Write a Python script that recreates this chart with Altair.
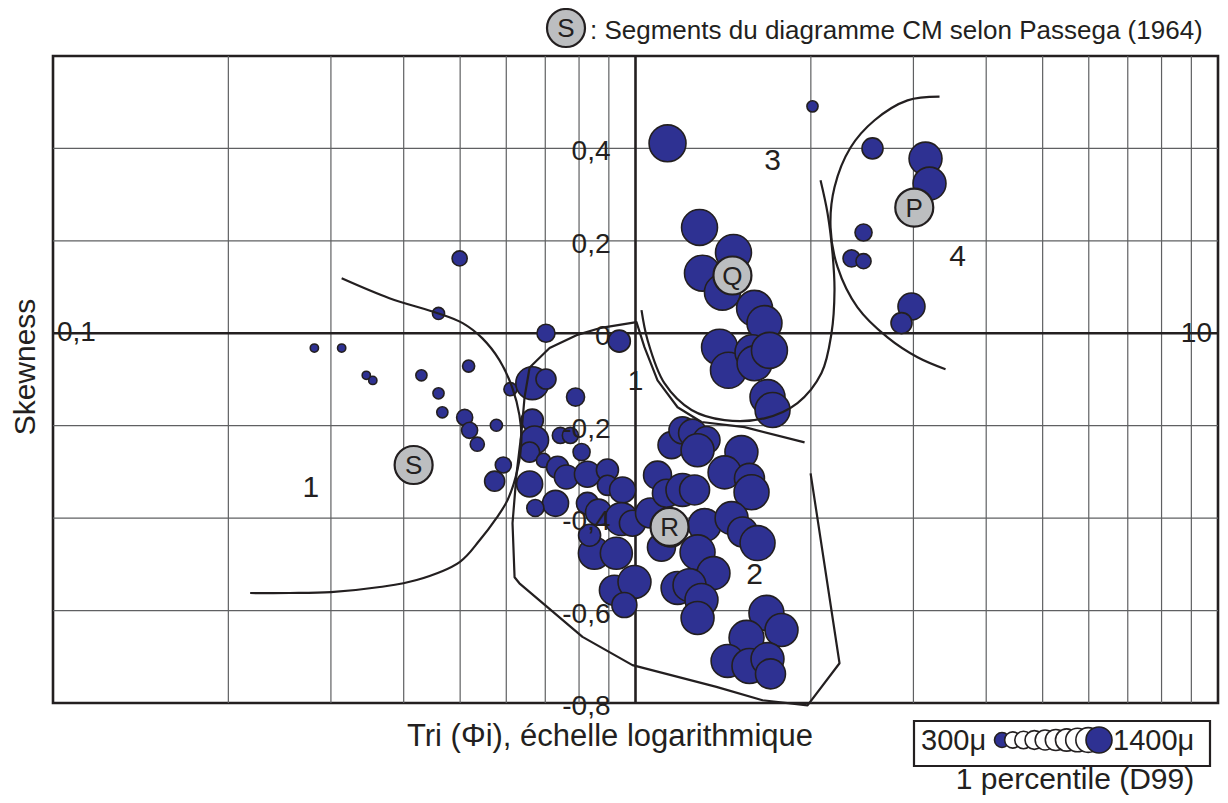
import altair as alt
import pandas as pd

W, H = 1165, 647
BLUE = "#2E3192"
INK = "#231F20"
GREY = "#BCBEC0"
GRID = "#5F6062"
FONT = "Liberation Sans"

# ---------------- bubbles: Tri (Phi i), Skewness, D99 (microns) ----------------
tri = [0.281, 0.313, 0.345, 0.354, 0.429, 0.459, 0.499, 0.517, 0.459, 0.466,
       0.509, 0.519, 0.535, 0.577, 0.593, 0.573, 0.610, 0.665, 0.702, 0.702,
       0.789, 0.938, 0.665, 0.671, 0.743, 0.773, 0.808, 0.658, 0.695, 0.735,
       0.761, 0.827, 0.895, 0.895, 0.950, 0.658, 0.729, 0.673, 0.827, 0.864,
       0.946, 0.988, 1.061, 0.850, 0.927, 0.920, 0.996, 0.957, 1.153, 1.204,
       1.253, 1.324, 1.278, 1.520, 1.422, 1.569, 1.582, 1.091, 1.130, 1.204,
       1.263, 1.108, 1.314, 1.462, 1.527, 1.620, 1.278, 1.361, 1.181, 1.238,
       1.298, 1.278, 1.678, 1.781, 1.551, 1.439, 1.569, 1.685, 1.705, 1.135,
       1.288, 1.473, 1.303, 1.410, 1.601, 1.665, 1.394, 1.444, 1.588, 1.601,
       1.698, 1.685, 1.719, 2.013, 2.552, 3.147, 3.197, 2.463, 2.349, 2.463,
       2.977, 2.862, 0.834, 1.150]
skew = [-0.032, -0.032, -0.091, -0.102, -0.091, 0.043, 0.162, -0.071, -0.130, -0.171,
        -0.182, -0.210, -0.240, -0.199, -0.285, -0.320, -0.121, -0.108, -0.099, 0.000,
        -0.138, -0.017, -0.188, -0.231, -0.221, -0.221, -0.257, -0.257, -0.275, -0.290,
        -0.311, -0.305, -0.296, -0.329, -0.339, -0.326, -0.368, -0.378, -0.368, -0.387,
        -0.402, -0.411, -0.389, -0.476, -0.476, -0.556, -0.538, -0.588, -0.242, -0.210,
        -0.216, -0.231, -0.253, -0.257, -0.301, -0.314, -0.344, -0.307, -0.346, -0.339,
        -0.339, -0.463, -0.415, -0.400, -0.430, -0.454, -0.474, -0.519, -0.551, -0.545,
        -0.577, -0.616, -0.605, -0.642, -0.659, -0.709, -0.720, -0.705, -0.737, 0.411,
        0.229, 0.175, 0.130, 0.089, 0.054, 0.022, -0.030, -0.080, -0.041, -0.065,
        -0.037, -0.138, -0.166, 0.491, 0.400, 0.378, 0.324, 0.218, 0.162, 0.156,
        0.058, 0.022, -0.437, -0.430]
d99 = [303, 303, 303, 303, 348, 366, 431, 366, 348, 348,
       455, 455, 408, 366, 455, 569, 386, 1114, 569, 509,
       509, 636, 636, 873, 455, 455, 481, 569, 408, 636,
       708, 788, 636, 569, 788, 788, 788, 481, 636, 788,
       1114, 788, 965, 1063, 1063, 965, 1114, 747, 829, 829,
       873, 829, 1114, 1114, 1114, 965, 1222, 873, 873, 1114,
       965, 873, 1114, 1114, 965, 1222, 1222, 1114, 1114, 1114,
       1114, 1114, 1222, 1114, 1222, 1114, 1222, 1114, 965, 1336,
       1278, 1278, 1278, 1278, 1278, 1222, 1278, 1278, 1222, 1222,
       1278, 1222, 1222, 348, 602, 1114, 1114, 481, 481, 431,
       829, 602, 636, 965]

# ---------------- segment boundaries of the CM diagram ----------------
curve_a_tri = [0.313, 0.378, 0.459, 0.505, 0.546, 0.584, 0.615, 0.632, 0.637, 0.627,
               0.603, 0.577, 0.540, 0.499, 0.421, 0.364, 0.300, 0.255, 0.218]
curve_a_skew = [0.119, 0.076, 0.043, 0.022, -0.011, -0.058, -0.119, -0.177, -0.231, -0.296,
                -0.361, -0.400, -0.448, -0.495, -0.534, -0.549, -0.560, -0.562, -0.562]
curve_b_tri = [1.951, 1.539, 1.298, 1.181, 1.091, 1.036, 1.004, 0.867, 0.792, 0.712,
               0.658, 0.645, 0.637, 0.625, 0.615, 0.620, 0.632, 0.811, 0.988, 1.377,
               1.652, 1.974, 2.240, 1.998]
curve_b_skew = [-0.236, -0.203, -0.192, -0.160, -0.102, -0.030, 0.024, 0.011, -0.004, -0.032,
                -0.074, -0.138, -0.216, -0.303, -0.411, -0.528, -0.541, -0.657, -0.718, -0.765,
                -0.794, -0.805, -0.714, -0.303]
curve_c_tri = [2.078, 2.137, 2.179, 2.196, 2.170, 2.086, 1.897, 1.665, 1.422, 1.248,
               1.121, 1.049, 1.024]
curve_c_skew = [0.331, 0.259, 0.173, 0.093, 0.000, -0.086, -0.151, -0.184, -0.188, -0.166,
                -0.108, -0.015, 0.050]
curve_d_tri = [3.326, 2.931, 2.573, 2.340, 2.196, 2.162, 2.223, 2.405, 2.708, 3.049, 3.406]
curve_d_skew = [0.512, 0.504, 0.461, 0.402, 0.316, 0.229, 0.143, 0.056, -0.009, -0.052, -0.078]

# ---------------- segment markers (Passega) and region numbers ----------------
seg_names = ["S", "Q", "R", "P"]
seg_tri = [0.416, 1.467, 1.144, 3.010]
seg_skew = [-0.285, 0.125, -0.419, 0.272]

zone_names = ["1", "2", "3", "4"]
zone_tri = [0.277, 1.601, 1.719, 3.571]
zone_skew = [-0.335, -0.523, 0.372, 0.166]

# ---------------- axes ----------------
grid_x = [0.2, 0.3, 0.4, 0.5, 0.6, 0.7, 0.8, 0.9, 2, 3, 4, 5, 6, 7, 8, 9]
grid_y = [-0.6, -0.4, -0.2, 0.2, 0.4]
ytick_vals = [0.4, 0.2, 0.0, -0.2, -0.4, -0.6, -0.8]
ytick_labels = ["0,4", "0,2", "0", "-0,2", "-0,4", "-0,6", "-0,8"]

legend_keys = [300, 422, 544, 667, 789, 911, 1033, 1156, 1278, 1400]

# ---------------- build tables ----------------
bubbles = pd.DataFrame({"tri": tri, "skew": skew, "d99": d99})

rows = []
for name, xs_, ys_ in [("A", curve_a_tri, curve_a_skew), ("B", curve_b_tri, curve_b_skew),
                       ("C", curve_c_tri, curve_c_skew), ("D", curve_d_tri, curve_d_skew)]:
    for i, (a, b) in enumerate(zip(xs_, ys_)):
        rows.append({"curve": name, "i": i, "tri": a, "skew": b})
curves = pd.DataFrame(rows)

segs = pd.DataFrame({"name": seg_names, "tri": seg_tri, "skew": seg_skew})
zones = pd.DataFrame({"name": zone_names, "tri": zone_tri, "skew": zone_skew})
yticks = pd.DataFrame({"skew": ytick_vals, "lab": ytick_labels})

xs = alt.Scale(type="log", domain=[0.1, 10], nice=False)
ys = alt.Scale(domain=[-0.8, 0.6], nice=False, zero=False)

hidden_axis = alt.Axis(grid=False, labels=False, ticks=False, domain=False, title=None)


def X(**k):
    return alt.X("tri:Q", scale=xs, axis=None, **k)


def Y(**k):
    return alt.Y("skew:Q", scale=ys, axis=None, **k)


layers = []

# grid
layers.append(alt.Chart(pd.DataFrame({"tri": grid_x})).mark_rule(color=GRID, strokeWidth=1.2)
              .encode(x=X()))
layers.append(alt.Chart(pd.DataFrame({"skew": grid_y})).mark_rule(color=GRID, strokeWidth=1.2)
              .encode(y=Y()))

# main axes lines through x=1 and skewness=0
layers.append(alt.Chart(pd.DataFrame({"tri": [1.0]})).mark_rule(color=INK, strokeWidth=2.6)
              .encode(x=X()))
layers.append(alt.Chart(pd.DataFrame({"skew": [0.0]})).mark_rule(color=INK, strokeWidth=2.6)
              .encode(y=Y()))

# bubbles
layers.append(
    alt.Chart(bubbles).mark_point(shape="circle", filled=True, fill=BLUE, stroke=INK,
                                  strokeWidth=1.6, opacity=1)
    .encode(x=alt.X("tri:Q", scale=xs, axis=hidden_axis),
            y=alt.Y("skew:Q", scale=ys, axis=hidden_axis),
            size=alt.Size("d99:Q", scale=alt.Scale(domain=[300, 1400], range=[64, 1444]),
                          legend=None))
)

# curves
layers.append(
    alt.Chart(curves).transform_filter("datum.curve != 'B'")
    .mark_line(interpolate="catmull-rom", color=INK, strokeWidth=2.2)
    .encode(x=X(), y=Y(), detail="curve:N", order="i:Q")
)
layers.append(
    alt.Chart(curves).transform_filter("datum.curve == 'B'")
    .mark_line(color=INK, strokeWidth=2.2, strokeJoin="round")
    .encode(x=X(), y=Y(), order="i:Q")
)

# segment markers
layers.append(
    alt.Chart(segs).mark_point(shape="circle", filled=True, fill=GREY, stroke=INK,
                               strokeWidth=2.2, size=1444, opacity=1)
    .encode(x=X(), y=Y())
)
layers.append(
    alt.Chart(segs).mark_text(font=FONT, fontSize=26, color=INK, dy=1)
    .encode(x=X(), y=Y(), text="name:N")
)
layers.append(
    alt.Chart(zones).mark_text(font=FONT, fontSize=30, color=INK)
    .encode(x=X(), y=Y(), text="name:N")
)

# tick labels
layers.append(
    alt.Chart(yticks).mark_text(font=FONT, fontSize=28, color=INK, align="right",
                                baseline="middle", dx=-25, dy=4)
    .encode(x=alt.datum(1, scale=xs), y=Y(), text="lab:N")
)
layers.append(
    alt.Chart(pd.DataFrame({"tri": [0.1], "skew": [0.0]}))
    .mark_text(text="0,1", font=FONT, fontSize=28, color=INK, align="left",
               baseline="middle", dx=4, dy=0)
    .encode(x=X(), y=Y())
)
layers.append(
    alt.Chart(pd.DataFrame({"tri": [1.0], "skew": [0.0]}))
    .mark_text(text="1", font=FONT, fontSize=28, color=INK, align="center",
               baseline="middle", dy=49)
    .encode(x=X(), y=Y())
)
layers.append(
    alt.Chart(pd.DataFrame({"tri": [10.0], "skew": [0.0]}))
    .mark_text(text="10", font=FONT, fontSize=28, color=INK, align="right",
               baseline="middle", dx=-6, dy=1)
    .encode(x=X(), y=Y())
)


def one():
    return alt.Data(values=[{"k": 1}])


def label(text, x, y, size, align="center", baseline="middle", angle=0):
    return alt.Chart(one()).mark_text(text=text, font=FONT, fontSize=size, color=INK,
                                      align=align, baseline=baseline, angle=angle) \
        .encode(x=alt.value(x), y=alt.value(y))


def dot(x, y, d, fill, sw=1.6):
    return alt.Chart(one()).mark_point(shape="circle", filled=True, fill=fill, stroke=INK,
                                       strokeWidth=sw, opacity=1) \
        .encode(x=alt.value(x), y=alt.value(y), size=alt.value(d * d))


# titles
layers.append(dot(513, -28, 38, GREY, 2.2))
layers.append(label("S", 513, -27, 26))
layers.append(label(": Segments du diagramme CM selon Passega (1964)", 537, -25, 26, align="left"))
layers.append(label("Skewness", -27, 311, 30, angle=270))
layers.append(label("Tri (\u03a6i), \u00e9chelle logarithmique", 557, 681, 31))

# size legend
layers.append(
    alt.Chart(one()).mark_rect(filled=False, stroke=INK, strokeWidth=2.2)
    .encode(x=alt.value(861), x2=alt.value(1157), y=alt.value(665), y2=alt.value(710))
)
layers.append(label("300\u03bc", 868, 685, 29, align="left"))
layers.append(label("1400\u03bc", 1060, 685, 29, align="left"))
layers.append(label("1 percentile (D99)", 1022, 733, 30, baseline="alphabetic"))
n = len(legend_keys)
for j, key in enumerate(legend_keys):
    frac = (key - legend_keys[0]) / (legend_keys[-1] - legend_keys[0])
    fill = BLUE if j in (0, n - 1) else "white"
    layers.append(dot(949 + 97 * frac, 684, 15 + 11 * frac, fill, 1.6))

chart = alt.layer(*layers).properties(
    width=W, height=H,
    autosize=alt.AutoSizeParams(type="none"),
    padding={"left": 45, "top": 48, "right": 2, "bottom": 92},
    background="white",
).configure_view(stroke=INK, strokeWidth=2.6)

chart.save("out.html", embed_options={"renderer": "svg", "actions": False})
